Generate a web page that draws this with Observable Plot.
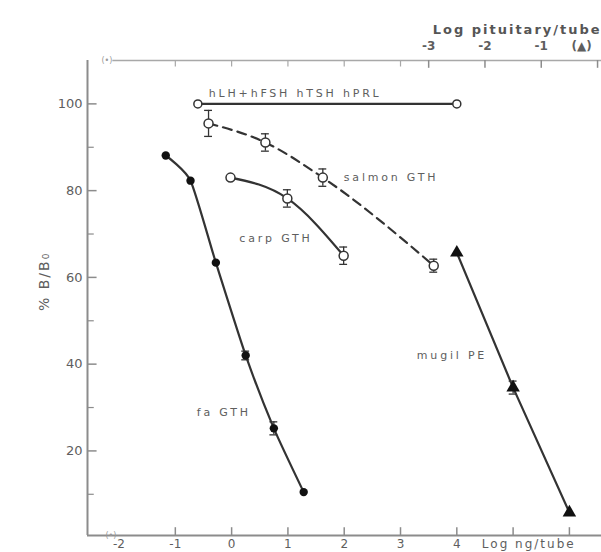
<!DOCTYPE html>
<html><head><meta charset="utf-8">
<script src="https://cdn.jsdelivr.net/npm/d3@7"></script>
<script src="https://cdn.jsdelivr.net/npm/@observablehq/plot@0.6"></script>
<style>body{margin:0;background:#fff}</style>
</head><body><div id="chart"></div>
<script>
// ---- data ----
const faX = [-1.17, -0.73, -0.28, 0.25, 0.75, 1.28];
const faY = [88.1, 82.3, 63.4, 42.0, 25.2, 10.5];
const faErr = [0, 0, 0, 1, 1.5, 0];
const salmonX = [-0.41, 0.60, 1.62, 3.59];
const salmonY = [95.5, 91.1, 83.0, 62.7];
const salmonErr = [3, 2, 2, 1.5];
const carpX = [-0.02, 0.99, 1.99];
const carpY = [83.0, 78.2, 65.0];
const carpErr = [0, 2, 2];
const mugilPit = [-2.5, -1.5, -0.5];   // log pituitary / tube (top axis)
const mugilY = [65.7, 34.6, 5.8];
const mugilErr = [0, 1.5, 0];
const hormoneX = [-0.6, 4.0];
const hormoneY = [100, 100];
const xTickLabels = [-2, -1, 0, 1, 2, 3, 4];
const xTicks = [-1, 0, 1, 2, 3, 4, 5, 6];
const topTicks = [-1, 0, 1, 2, 3];
const pitTicks = [-3, -2, -1, 0];
const pitTickLabels = ["-3", "-2", "-1", "(\u25B2)"];
const yTickLabels = [20, 40, 60, 80, 100];
const yMinorTicks = [10, 30, 50, 70, 90];
const pitOffset = 6.5; // log pituitary/tube -> position on the log ng/tube axis

// ---- build ----
const X0 = -2.56, X1 = 6.57, Y0 = 0.5, Y1 = 110;
const ink = "#333", axisInk = "#8c8c8c", textInk = "#5e5e5e";
const pts = (xs, ys, es) => xs.map((x, i) => ({x, y: ys[i], e: es ? es[i] : 0}));
const fa = pts(faX, faY, faErr);
const salmon = pts(salmonX, salmonY, salmonErr);
const carp = pts(carpX, carpY, carpErr);
const mugil = pts(mugilPit.map(p => p + pitOffset), mugilY, mugilErr);
const hormone = pts(hormoneX, hormoneY);
const errs = [...fa, ...salmon, ...carp, ...mugil].filter(d => d.e > 0);
const font = "DejaVu Sans";

const seriesLabels = [
  {t: "salmon GTH", p: salmon[2], dx: 21, dy: 0, a: "start"},
  {t: "carp GTH", p: carp[2], dx: -31, dy: -17, a: "end"},
  {t: "fa GTH", p: fa[4], dx: -23, dy: -16, a: "end"},
  {t: "mugil PE", p: mugil[1], dx: -26, dy: -32, a: "end"},
  {t: "hLH+hFSH hTSH hPRL", p: hormone[0], dx: 11, dy: -10, a: "start"}
];
const pitShift = [0, 0, 0, -16];

const svg = Plot.plot({
  width: 601, height: 552,
  marginLeft: 87, marginRight: 0, marginTop: 60, marginBottom: 17,
  x: {domain: [X0, X1], axis: null},
  y: {domain: [Y0, Y1], axis: null},
  style: {fontFamily: font, background: "#fff"},
  marks: [
    // frame / axes
    Plot.ruleX([X0], {y1: Y0, y2: Y1, stroke: axisInk, strokeWidth: 2}),
    Plot.ruleY([Y0], {x1: X0, x2: X1, stroke: axisInk, strokeWidth: 2}),
    Plot.ruleY([Y1], {x1: X0 + 0.45, x2: X1, stroke: "#a8a8a8", strokeWidth: 1.5}),
    Plot.ruleY(yTickLabels, {y: d => d, x1: X0, x2: X0 + 0.17, stroke: axisInk, strokeWidth: 1.5}),
    Plot.ruleY(yMinorTicks, {y: d => d, x1: X0, x2: X0 + 0.12, stroke: axisInk, strokeWidth: 1.2}),
    Plot.ruleX(xTicks, {x: d => d, y1: Y0, y2: Y0 + 1.8, stroke: axisInk, strokeWidth: 1.5}),
    Plot.ruleX(topTicks, {x: d => d, y1: Y1, y2: Y1 - 1.5, stroke: "#a8a8a8", strokeWidth: 1.2}),
    Plot.ruleX(pitTicks, {x: d => d + pitOffset, y1: Y1, y2: Y1 - 1.8, stroke: axisInk, strokeWidth: 1.5}),
    Plot.text(yTickLabels, {x: X0, y: d => d, text: d => String(d), dx: -5, textAnchor: "end", fontSize: 13, fill: textInk}),
    Plot.text(xTickLabels, {x: d => d, y: Y0, text: d => String(d), dy: 9, fontSize: 12, fill: textInk}),
    Plot.text(["Log ng/tube"], {x: xTickLabels[xTickLabels.length - 1], y: Y0, dx: 25, dy: 9, textAnchor: "start", fontSize: 12, fill: textInk}),
    ...pitTicks.map((p, i) => Plot.text([p], {x: d => d + pitOffset, y: Y1, text: () => pitTickLabels[i], dx: pitShift[i], dy: -14, fontSize: 12, fill: textInk, fontWeight: "bold"})),
    Plot.text(["Log pituitary/tube"], {x: pitTicks[0] + pitOffset, y: Y1, dx: 4, dy: -31, textAnchor: "start", fontSize: 13, fontWeight: "bold", fill: "#555"}),
    Plot.text(["% B/B\u2080"], {frameAnchor: "left", dx: -43, dy: 13, rotate: -90, fontSize: 14, fill: textInk}),
    Plot.text(["(\u2022)"], {frameAnchor: "top-left", dx: 14, dy: -3, fontSize: 8, fill: "#999"}),
    Plot.text(["(\u2022)"], {frameAnchor: "bottom-left", dx: 18, dy: 2, fontSize: 8, fill: "#999"}),

    // hormone line
    Plot.line(hormone, {x: "x", y: "y", stroke: ink, strokeWidth: 2.4}),
    // error bars
    Plot.ruleX(errs, {x: "x", y1: d => d.y - d.e, y2: d => d.y + d.e, stroke: ink, strokeWidth: 1.3}),
    Plot.ruleY(errs, {y: d => d.y + d.e, x1: d => d.x - 0.07, x2: d => d.x + 0.07, stroke: ink, strokeWidth: 1.3}),
    Plot.ruleY(errs, {y: d => d.y - d.e, x1: d => d.x - 0.07, x2: d => d.x + 0.07, stroke: ink, strokeWidth: 1.3}),
    // series lines
    Plot.line(fa, {x: "x", y: "y", curve: "cardinal", tension: 0.4, stroke: ink, strokeWidth: 2.2}),
    Plot.line(salmon, {x: "x", y: "y", curve: "monotone-x", stroke: ink, strokeWidth: 2.2, strokeDasharray: "9,6"}),
    Plot.line(carp, {x: "x", y: "y", curve: "monotone-x", stroke: ink, strokeWidth: 2.2}),
    Plot.line(mugil, {x: "x", y: "y", stroke: ink, strokeWidth: 2.2}),
    // markers
    Plot.dot(hormone, {x: "x", y: "y", r: 4, fill: "#fff", stroke: ink, strokeWidth: 1.5}),
    Plot.dot(salmon, {x: "x", y: "y", r: 4.5, fill: "#fff", stroke: ink, strokeWidth: 1.5}),
    Plot.dot(carp, {x: "x", y: "y", r: 4.5, fill: "#fff", stroke: ink, strokeWidth: 1.5}),
    Plot.dot(fa, {x: "x", y: "y", r: 4.2, fill: "#111"}),
    Plot.dot(mugil, {x: "x", y: "y", r: 5, symbol: "triangle", fill: "#111"}),
    // series labels
    ...seriesLabels.map(L => Plot.text([L], {x: d => d.p.x, y: d => d.p.y, text: "t", dx: L.dx, dy: L.dy, textAnchor: L.a, fontSize: 11, fill: textInk}))
  ]
});
document.getElementById("chart").appendChild(svg);
// letter spacing for the typewriter-like labels
const spacedLabels = new Set(seriesLabels.map(d => d.t));
const spacedTitles = new Set(["Log ng/tube", "Log pituitary/tube", "% B/B\u2080"]);
d3.select(svg).selectAll("text").each(function() {
  const t = this.textContent;
  if (spacedLabels.has(t)) this.setAttribute("letter-spacing", "2.8");
  else if (spacedTitles.has(t)) this.setAttribute("letter-spacing", "2");
});
</script>
</body></html>
